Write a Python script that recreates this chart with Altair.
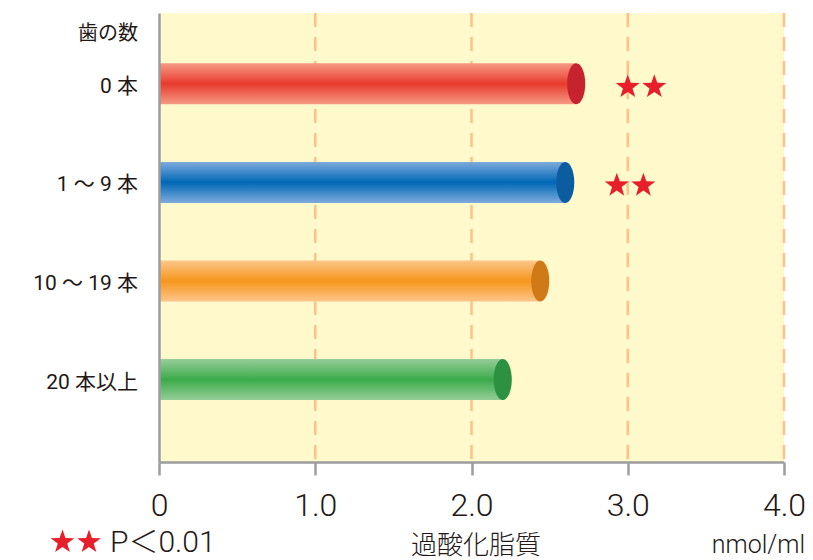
import altair as alt
import pandas as pd

# ---- data ----
categories = ["0 本", "1 ～ 9 本", "10 ～ 19 本", "20 本以上"]
values = [2.67, 2.60, 2.44, 2.20]
edge_colors = ["#f59a84", "#7eaadc", "#fdc68a", "#97cd98"]
center_colors = ["#e93a2d", "#0068b6", "#f6961c", "#3aab4a"]
cap_colors = ["#c7232e", "#0b5d9f", "#cf7917", "#2c9241"]
star_categories = ["0 本", "0 本", "1 ～ 9 本", "1 ～ 9 本"]
star_values = [3.0, 3.17, 2.93, 3.10]
grid_values = [1, 2, 3, 4]
tick_values = [0, 1, 2, 3, 4]

df = pd.DataFrame({"category": categories, "value": values})
stars_df = pd.DataFrame({"category": star_categories, "value": star_values})
grid_df = pd.DataFrame({"value": grid_values})
one = pd.DataFrame({"k": [0]})

STAR = ("M0,-1 L0.235,-0.324 L0.951,-0.309 L0.380,0.124 L0.588,0.809 "
        "L0,0.4 L-0.588,0.809 L-0.380,0.124 L-0.951,-0.309 L-0.235,-0.324 Z")
ELLIPSE = "M0.44,0 A0.44,1 0 1,1 -0.44,0 A0.44,1 0 1,1 0.44,0 Z"
STAR_RED = "#e71f2a"
GRAY = "#9d9d9d"
INK = "#231815"
FONT = "Roboto, 'Noto Sans CJK JP'"

x_scale = alt.Scale(domain=[0, 4], nice=False, zero=True)
y_scale = alt.Scale(domain=categories, paddingInner=0, paddingOuter=0.277, align=0.394)

x_axis = alt.Axis(values=tick_values,
                  labelExpr="datum.value == 0 ? '0' : format(datum.value, '.1f')",
                  title=None, grid=False, domainColor=GRAY, domainWidth=2.5,
                  tickColor=GRAY, tickWidth=2.5, tickSize=13,
                  labelFont="Roboto", labelFontWeight=300, labelFontSize=32,
                  labelColor=INK, labelPadding=15, labelFlush=False,
                  labelOverlap=False, zindex=1)
y_axis = alt.Axis(labels=False, ticks=False, title=None, grid=False,
                  domainColor=GRAY, domainWidth=2.5, zindex=1)

x_enc = alt.X("value:Q", scale=x_scale, axis=x_axis)
y_enc = alt.Y("category:N", scale=y_scale, axis=y_axis, sort=categories)

layers = []

# dashed grid lines
layers.append(
    alt.Chart(grid_df).mark_rule(color="#fbc28a", strokeWidth=2.5, strokeDash=[14, 10])
    .encode(x=x_enc)
)

# cylinder bodies
for cat, e, c in zip(categories, edge_colors, center_colors):
    grad = alt.Gradient(
        gradient="linear",
        stops=[alt.GradientStop(color=e, offset=0),
               alt.GradientStop(color=c, offset=0.5),
               alt.GradientStop(color=e, offset=1)],
        x1=0, x2=0, y1=0, y2=1,
    )
    layers.append(
        alt.Chart(df).transform_filter(alt.datum.category == cat)
        .mark_bar(height=41, color=grad)
        .encode(x=x_enc, y=y_enc)
    )

# cylinder end caps
layers.append(
    alt.Chart(df).mark_point(shape=ELLIPSE, size=1681, filled=True, opacity=1, strokeWidth=0)
    .encode(x=x_enc, y=y_enc,
            color=alt.Color("category:N", scale=alt.Scale(domain=categories, range=cap_colors),
                            legend=None))
)

# significance stars
layers.append(
    alt.Chart(stars_df).mark_point(shape=STAR, size=640, filled=True, opacity=1,
                                   strokeWidth=0, color=STAR_RED, yOffset=3)
    .encode(x=x_enc, y=y_enc)
)

# category labels
layers.append(
    alt.Chart(df).mark_text(align="right", baseline="middle", font=FONT, fontSize=21,
                            color=INK, dy=3)
    .encode(text="category:N", y=y_enc, x=alt.value(-21))
)

# header
layers.append(
    alt.Chart(one).mark_text(align="right", baseline="middle", font=FONT, fontSize=20,
                             color=INK, text="歯の数")
    .encode(x=alt.value(-21), y=alt.value(21))
)

# legend stars
for xv in [-96.5, -70]:
    layers.append(
        alt.Chart(one).mark_point(shape=STAR, size=625, filled=True, opacity=1,
                                  strokeWidth=0, color=STAR_RED)
        .encode(x=alt.value(xv), y=alt.value(529))
    )

layers.append(
    alt.Chart(one).mark_text(align="left", baseline="alphabetic", font=FONT,
                             fontWeight=300, fontSize=30, color=INK, text="P＜0.01")
    .encode(x=alt.value(-49), y=alt.value(539))
)
layers.append(
    alt.Chart(one).mark_text(align="left", baseline="alphabetic", font="Noto Sans CJK JP",
                             fontWeight=300, fontSize=26, color=INK, text="過酸化脂質")
    .encode(x=alt.value(252), y=alt.value(541))
)
layers.append(
    alt.Chart(one).mark_text(align="right", baseline="alphabetic", font="Roboto",
                             fontWeight=300, fontSize=25, color=INK, text="nmol/ml")
    .encode(x=alt.value(646), y=alt.value(540))
)

chart = alt.layer(*layers).properties(
    width=625, height=449,
    padding={"left": 159, "top": 13, "right": 29, "bottom": 98},
    autosize=alt.AutoSizeParams(type="none"),
    background="white",
).configure_view(fill="#fff9cc", stroke=None)

chart.save("out.html", embed_options={"renderer": "svg", "actions": False})
